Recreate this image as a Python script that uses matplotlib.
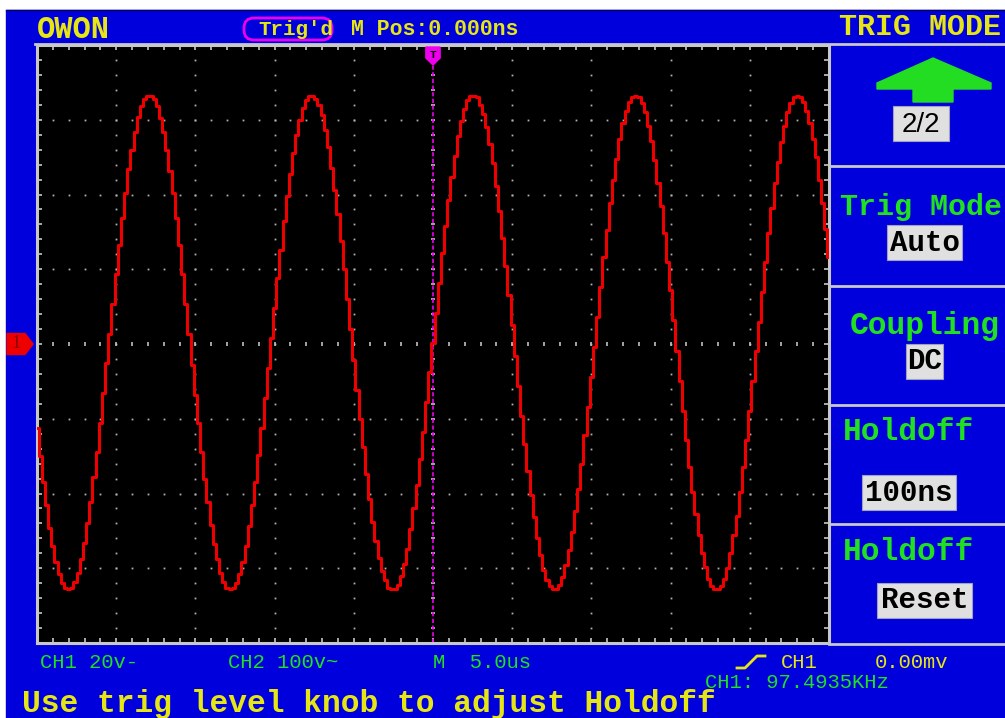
import numpy as np
import matplotlib
matplotlib.use("Agg")
import matplotlib.pyplot as plt
from matplotlib.patches import Polygon, Rectangle, FancyBboxPatch
from matplotlib.transforms import blended_transform_factory

# CH1 samples (volts), one every 0.2 us from -25 us to +25 us
ch1_volts = [
    -22.4, -30.0, -36.8, -43.2, -49.2, -54.0, -58.4, -61.6, -64.0, -65.2,
    -65.6, -65.2, -63.6, -61.2, -57.6, -53.2, -48.0, -42.4, -35.6, -28.8,
    -21.2, -13.2, -5.2, 2.8, 10.8, 18.8, 26.4, 33.6, 40.4, 46.8,
    52.0, 56.8, 60.8, 63.6, 65.6, 66.4, 66.4, 65.6, 63.6, 60.4,
    56.8, 52.0, 46.4, 40.4, 33.6, 26.4, 18.8, 10.8, 2.8, -5.6,
    -13.6, -21.2, -28.8, -36.0, -42.4, -48.4, -53.6, -57.6, -61.2, -63.6,
    -65.2, -65.6, -65.2, -64.0, -61.6, -58.4, -54.0, -48.8, -43.2, -36.8,
    -29.6, -22.4, -14.4, -6.4, 1.6, 9.6, 17.6, 25.2, 32.8, 39.6,
    45.6, 51.2, 56.0, 60.0, 63.2, 65.2, 66.4, 66.4, 65.6, 64.0,
    61.2, 57.2, 52.8, 47.2, 41.2, 34.8, 27.6, 20.0, 12.0, 4.0,
    -4.4, -12.4, -20.0, -27.6, -34.8, -41.6, -47.6, -52.8, -57.2, -60.8,
    -63.2, -65.2, -65.6, -65.6, -64.4, -62.0, -58.8, -54.8, -49.6, -44.0,
    -37.6, -30.8, -23.6, -15.6, -7.6, 0.4, 8.4, 16.4, 24.4, 31.6,
    38.4, 44.8, 50.4, 55.6, 59.6, 62.8, 65.2, 66.4, 66.4, 66.0,
    64.0, 61.6, 58.0, 53.6, 48.4, 42.4, 35.6, 28.4, 20.8, 13.2,
    5.2, -3.2, -11.2, -19.2, -26.8, -34.0, -40.4, -46.4, -52.0, -56.4,
    -60.4, -63.2, -64.8, -65.6, -65.6, -64.4, -62.4, -59.2, -55.2, -50.4,
    -44.8, -38.8, -32.0, -24.4, -16.8, -8.8, -0.8, 7.2, 15.2, 23.2,
    30.4, 37.6, 44.0, 49.6, 54.8, 59.2, 62.4, 64.8, 66.0, 66.4,
    66.0, 64.4, 62.0, 58.4, 54.4, 49.2, 43.2, 36.8, 29.6, 22.0,
    14.4, 6.4, -2.0, -10.0, -18.0, -25.6, -32.8, -39.6, -45.6, -51.2,
    -56.0, -59.6, -62.8, -64.8, -65.6, -65.6, -64.8, -62.8, -60.0, -56.0,
    -51.2, -46.0, -39.6, -32.8, -25.6, -18.0, -10.0, -2.0, 6.0, 14.0,
    22.0, 29.6, 36.4, 43.2, 48.8, 54.0, 58.4, 62.0, 64.4, 66.0,
    66.4, 66.0, 64.8, 62.4, 59.2, 54.8, 50.0, 44.0, 37.6, 30.8,
    23.2,
]
sample_us = 0.2
volts_per_div = 20
us_per_div = 5

menu_title = "TRIG MODE"
menu_page = "2/2"
menu_items = ["Trig Mode", "Coupling", "Holdoff", "Holdoff"]
menu_values = ["Auto", "DC", "100ns", "Reset"]

BLUE = "#0000DD"
YELLOW = "#E6E614"
GREEN = "#20E020"
MAGENTA = "#EE00EE"
GRAY = "#C8C8C8"
MONO = "Liberation Mono"

fig = plt.figure(figsize=(10.05, 7.18), dpi=100)
fig.patch.set_facecolor("white")

# background, pixel coords
bg = fig.add_axes([0, 0, 1, 1])
bg.set_xlim(0, 1005)
bg.set_ylim(718, 0)
bg.axis("off")
bg.add_patch(Rectangle((6, 10), 1000, 710, color=BLUE, zorder=0))
bg.plot([6, 1005], [10, 10], color="#000060", lw=1)

# scope screen
ax = fig.add_axes([37 / 1005, (718 - 643) / 718, 792 / 1005, 598 / 718])
ax.set_facecolor("black")
ax.set_xlim(-5 * us_per_div, 5 * us_per_div)
ax.set_ylim(-4 * volts_per_div, 4 * volts_per_div)
sub_x = np.arange(-5 * us_per_div, 5 * us_per_div + 0.01, us_per_div / 5)
sub_y = np.arange(-4 * volts_per_div, 4 * volts_per_div + 0.01, volts_per_div / 5)
ax.set_xticks(sub_x)
ax.set_yticks(sub_y)
ax.tick_params(direction="in", length=3.5, width=1.2, color=GRAY,
               top=True, right=True, labelbottom=False, labelleft=False)
for s in ax.spines.values():
    s.set_color(GRAY)
    s.set_linewidth(2.2)

# dotted grid
for gx in np.arange(-4, 5) * us_per_div:
    if gx != 0:
        ax.plot(np.full_like(sub_y, gx), sub_y, "s", ms=1.3, color="#B0B0B0", mew=0)
for gy in np.arange(-3, 4) * volts_per_div:
    if gy != 0:
        ax.plot(sub_x, np.full_like(sub_x, gy), "s", ms=1.3, color="#B0B0B0", mew=0)
ax.plot(sub_x, np.zeros_like(sub_x), "|", ms=3.5, mew=1.2, color="#C0C0C0")
ax.plot(np.zeros_like(sub_y), sub_y, "_", ms=3.5, mew=1.2, color="#C0C0C0")

# trigger position line
ax.axvline(0, color=MAGENTA, lw=1.2, ls=(0, (2.5, 1.5)), zorder=2)

# trace
t_us = -5 * us_per_div + sample_us * np.arange(len(ch1_volts))
ax.plot(t_us, ch1_volts, color="#EE0000", lw=2.2, drawstyle="steps-mid", zorder=3)

# channel / trigger markers
tr_y = blended_transform_factory(bg.transData, ax.transData)
tr_x = blended_transform_factory(ax.transData, bg.transData)
bg.add_patch(Polygon([(7, -2.8), (25, -2.8), (33, 0), (25, 2.8), (7, 2.8)],
                     color="#EE0000", transform=tr_y, zorder=5))
bg.text(16, 0, "1", transform=tr_y, ha="center", va="center", fontsize=13,
        color="#880000", family="Liberation Serif", zorder=6)
bg.add_patch(Polygon([(808, 0), (815, -1.8), (827, -1.8), (827, 1.8), (815, 1.8)],
                     color=MAGENTA, transform=tr_y, zorder=5))
bg.text(819, 0, "V", transform=tr_y, ha="center", va="center", fontsize=8,
        color="#7000A0", family=MONO, zorder=6)
ax.add_patch(Polygon([(-0.45, 47), (0.45, 47), (0.45, 58), (0, 65), (-0.45, 58)],
                     closed=True, color=MAGENTA, transform=tr_x, clip_on=False, zorder=6))
ax.text(0, 55, "T", transform=tr_x, ha="center", va="center", fontsize=8,
        fontweight="bold", color="black", family=MONO, zorder=7)

# top bar
bg.text(37, 38, "OWON", color=YELLOW, fontsize=22, fontweight="bold", family=MONO)
bg.add_patch(FancyBboxPatch((244, 18), 88, 22, boxstyle="round,pad=0,rounding_size=10",
                            fc="none", ec=MAGENTA, lw=2))
bg.text(258, 35, "Trig'd", color=YELLOW, fontsize=15, fontweight="bold", family=MONO)
bg.text(351, 35, "M Pos:0.000ns", color=YELLOW, fontsize=15.5, fontweight="bold", family=MONO)
bg.text(839, 35, menu_title, color=YELLOW, fontsize=21.6, fontweight="bold", family=MONO)

# right menu
bg.plot([35, 1005], [44, 44], color=GRAY, lw=2)
for yy in [166, 286, 405, 524, 644]:
    bg.plot([829, 1005], [yy, yy], color=GRAY, lw=2)
bg.add_patch(Polygon([(877, 89), (877, 83), (933, 58), (991, 83), (991, 89), (953, 89),
                      (953, 102), (913, 102), (913, 89)], color="#22DD22"))
bg.add_patch(Rectangle((893, 106), 56, 35, fc="#E0E0E0", ec="#A0A0C0", lw=0.8))
bg.text(921, 132, menu_page, ha="center", color="black", fontsize=20, family="Liberation Sans")

item_pos = [(840, 215), (850, 334), (843, 440), (843, 560)]
item_size = [21.6, 22.5, 22.5, 22.5]
box_pos = [(887, 225, 75), (906, 344, 37), (862, 475, 94), (877, 583, 95)]
value_base = [251, 369, 501, 608]
for name, (x0, yb), fs, val, (bx, by, bw), vb in zip(menu_items, item_pos, item_size,
                                                      menu_values, box_pos, value_base):
    bg.text(x0, yb, name, color=GREEN, fontsize=fs, fontweight="bold", family=MONO)
    bg.add_patch(Rectangle((bx, by), bw, 35, fc="#E0E0E0", ec="#A0A0C0", lw=0.8))
    bg.text(bx + bw / 2, vb, val, ha="center", color="black", fontsize=21,
            fontweight="bold", family=MONO)

# bottom status
bg.text(40, 668, "CH1 20v-", color=GREEN, fontsize=14.8, family=MONO)
bg.text(228, 668, "CH2 100v~", color=GREEN, fontsize=14.8, family=MONO)
bg.text(433, 668, "M  5.0us", color=GREEN, fontsize=14.8, family=MONO)
bg.plot([737, 745, 757, 765], [668, 668, 656, 656], color=YELLOW, lw=2)
bg.text(781, 668, "CH1", color=YELLOW, fontsize=14.8, family=MONO)
bg.text(875, 668, "0.00mv", color=YELLOW, fontsize=14.8, family=MONO)
bg.text(705, 688, "CH1: 97.4935KHz", color=GREEN, fontsize=14.8, family=MONO)
bg.text(22, 712, "Use trig level knob to adjust Holdoff", color=YELLOW, fontsize=22.5,
        fontweight="bold", family=MONO)

fig.savefig("out.png", dpi=100)
